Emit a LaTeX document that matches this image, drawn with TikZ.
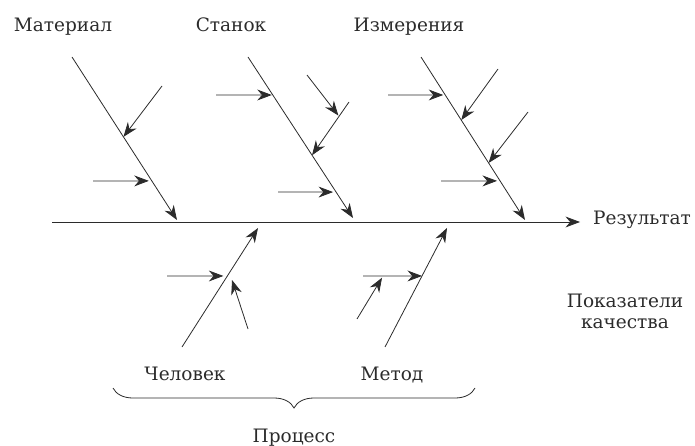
\documentclass[tikz,border=0pt]{standalone}
\usepackage{fontspec}
\setmainfont{DejaVu Serif}
\newfontfamily\labfont{DejaVu Serif}
\usetikzlibrary{arrows.meta,decorations.pathreplacing,calc}
\definecolor{ink}{HTML}{2B2B2B}
\begin{document}
\begin{tikzpicture}[x=1pt,y=-1pt,
  ln/.style={line width=0.8pt, draw=ink},
  arr/.style={ln, -{Stealth[scale=2.2]}},
  lbl/.style={font=\labfont\fontsize{18.5}{22}\selectfont, text=ink, inner sep=0pt, anchor=base}]
\useasboundingbox (0,0) rectangle (695,446);
% labels
\node[lbl] (mat) at (63,32) {Материал};
\node[lbl] (stan) at (231,32) {Станок};
\node[lbl] (izm) at (409,32) {Измерения};
\node[lbl, anchor=base west] (res) at (593,225) {Результат};
\node[lbl] (pok1) at (625,307) {Показатели};
\node[lbl] (pok2) at (625,328) {качества};
\node[lbl] (chel) at (185,380) {Человек};
\node[lbl] (met) at (392,380) {Метод};
\node[lbl] (proc) at (294,442) {Процесс};
% spine
\coordinate (sp) at (52,222);
\draw[arr] (sp) -- ([xshift=-13pt]res.west |- sp);
% bones
\coordinate (M1) at (72,57);   \coordinate (M2) at (177,220);
\coordinate (S1) at (248,57);  \coordinate (S2) at (353,218);
\coordinate (I1) at (421,57);  \coordinate (I2) at (525,220);
\coordinate (C1) at (182,347); \coordinate (C2) at (258,228);
\coordinate (D1) at (385,347); \coordinate (D2) at (447,228);
\draw[arr] (M1) -- (M2);
\draw[arr] (S1) -- (S2);
\draw[arr] (I1) -- (I2);
\draw[arr] (C1) -- (C2);
\draw[arr] (D1) -- (D2);
% Material causes
\coordinate (ma) at (162,86);
\coordinate (mb) at (93,181);
\draw[arr] (ma) -- ($(M1)!0.49!(M2)$);
\draw[arr, shorten >=3pt] (mb) -- ($(M1)!0.76!(M2)$);
% Stanok causes
\coordinate (sa) at (216,95);
\coordinate (sb) at (349,102);
\coordinate (sbe) at ($(S1)!0.61!(S2)$);
\coordinate (sc) at (307,75);
\coordinate (sd) at (278,192);
\draw[arr, shorten >=1pt] (sa) -- ($(S1)!0.236!(S2)$);
\draw[arr] (sb) -- (sbe);
\draw[arr, shorten >=1pt] (sc) -- ($(sb)!0.27!(sbe)$);
\draw[arr, shorten >=3pt] (sd) -- ($(S1)!0.839!(S2)$);
% Izmereniya causes
\coordinate (ia) at (388,95);
\coordinate (ib) at (498,69);
\coordinate (ic) at (528,112);
\coordinate (id) at (441,181);
\draw[arr, shorten >=2pt] (ia) -- ($(I1)!0.233!(I2)$);
\draw[arr] (ib) -- ($(I1)!0.387!(I2)$);
\draw[arr] (ic) -- ($(I1)!0.65!(I2)$);
\draw[arr, shorten >=3pt] (id) -- ($(I1)!0.76!(I2)$);
% Chelovek causes
\coordinate (ca) at (167,276);
\coordinate (cb) at (248,329);
\draw[arr, shorten >=4pt] (ca) -- ($(C1)!0.597!(C2)$);
\draw[arr] (cb) -- (232,280);
% Metod causes
\coordinate (da) at (363,276);
\coordinate (db) at (357,319);
\draw[arr] (da) -- ($(D1)!0.597!(D2)$);
\draw[arr, shorten >=2pt] (db) -- ($(da)!0.34!($(D1)!0.597!(D2)$)$);
% brace
\coordinate (bl) at (113,388);
\coordinate (br) at (475,388);
\draw[ln, decorate, decoration={brace, mirror, amplitude=20pt}] (bl) -- (br);
\end{tikzpicture}
\end{document}
